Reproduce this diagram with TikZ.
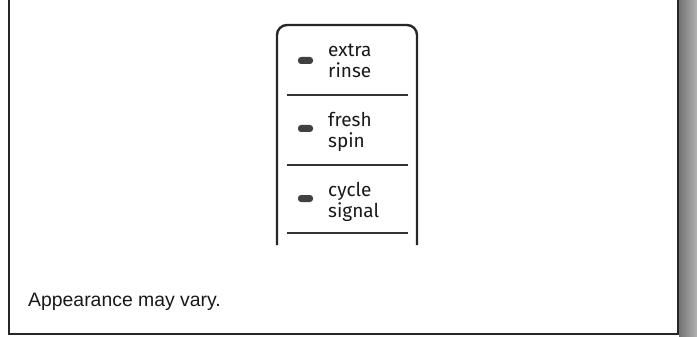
\documentclass[tikz,border=0pt]{standalone}
\usepackage{fontspec}
\setmainfont{Liberation Sans}
\newfontfamily\panelfont{Fira Sans}
\begin{document}
\begin{tikzpicture}[x=1pt,y=-1pt,
  frameline/.style={line width=2pt,black!85},
  panelline/.style={line width=2.4pt,black!85},
  sepline/.style={line width=1.4pt,black!80},
  leddot/.style={rectangle,rounded corners=3pt,fill=black!75,minimum width=15pt,minimum height=7pt,inner sep=0pt},
  lbl/.style={font=\panelfont\fontsize{19}{21}\selectfont,align=left,inner sep=0pt,anchor=base west,text=black!90},
  caption/.style={font=\fontsize{19.4}{22}\selectfont,inner sep=0pt,anchor=base west,text=black!90}]
\useasboundingbox (0,0) rectangle (697,337);
% right shaded edge
\shade[left color=black!55,right color=black!30] (679,0) rectangle (697,337);
% frame
\draw[frameline] (9,0) -- (9,334) -- (678,334) -- (678,0);
% panel
\draw[panelline,rounded corners=10pt] (277,245) -- (277,25) -- (417,25) -- (417,245);
\draw[sepline] (287,95) -- (408,95);
\draw[sepline] (287,165) -- (408,165);
\draw[sepline] (287,233) -- (408,233);
% entries
\node[leddot] (d1) at (305.5,60.5) {};
\node[lbl] (t1) at (328,78) {extra\\rinse};
\node[leddot] (d2) at (305.5,128.5) {};
\node[lbl] (t2) at (328,147) {fresh\\spin};
\node[leddot] (d3) at (305.5,198.5) {};
\node[lbl] (t3) at (328,217) {cycle\\signal};
% caption
\node[caption] (cap) at (28,306) {Appearance may vary.};
\end{tikzpicture}
\end{document}
